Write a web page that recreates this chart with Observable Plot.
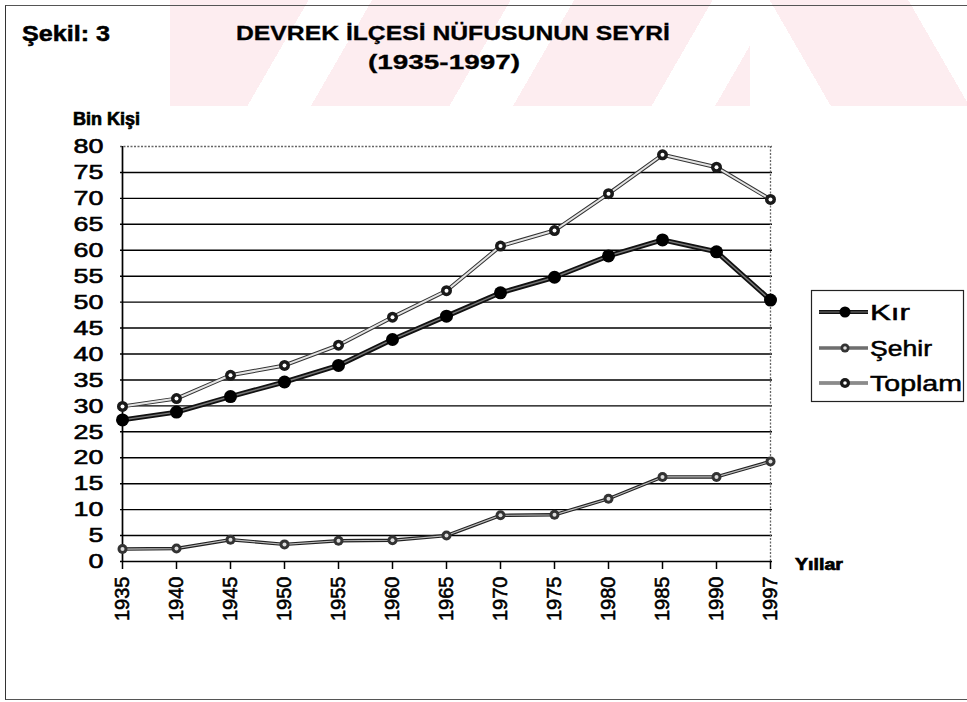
<!DOCTYPE html>
<html>
<head>
<meta charset="utf-8">
<script src="https://cdn.jsdelivr.net/npm/d3@7"></script>
<script src="https://cdn.jsdelivr.net/npm/@observablehq/plot@0.6"></script>
<style>
  body { margin: 0; background: #fff; }
  #wrap { position: relative; width: 967px; height: 702px; overflow: hidden; background: #fff;
          font-family: "Liberation Sans", Arial, sans-serif; }
  #wm1 { position: absolute; left: 170px; top: 0; width: 580px; height: 106px;
        background: repeating-linear-gradient(120deg, #fdedf0 0 120px, rgba(255,255,255,0) 120px 175px); }
  #wm2 { position: absolute; left: 750px; top: 0; width: 217px; height: 106px;
        background: repeating-linear-gradient(60deg, rgba(255,255,255,0) 0 70px, #fdedf0 70px 190px); }
  #frame { position: absolute; left: 5px; top: 5px; width: 980px; height: 693px;
           border-left: 1.5px solid #333; border-top: 1.5px solid #555; border-bottom: 1.5px solid #555; }
  #wrap svg { position: absolute; left: 0; top: 0; }
</style>
</head>
<body>
<div id="wrap"><div id="wm1"></div><div id="wm2"></div><div id="frame"></div></div>
<script>
// ---- data ----
const years = ["1935","1940","1945","1950","1955","1960","1965","1970","1975","1980","1985","1990","1997"];
const kir    = [27.3, 28.8, 31.8, 34.6, 37.8, 42.8, 47.3, 51.8, 54.8, 58.9, 62.0, 59.7, 50.4];
const sehir  = [2.4, 2.5, 4.2, 3.3, 4.0, 4.1, 5.0, 8.9, 9.0, 12.1, 16.3, 16.3, 19.3];
const toplam = [29.9, 31.4, 35.9, 37.8, 41.7, 47.1, 52.2, 60.8, 63.8, 70.9, 78.4, 76.0, 69.8];
const seriesNames = ["Kır", "Şehir", "Toplam"];
const yTicks = d3.range(0, 85, 5);
const titleText = "DEVREK İLÇESİ NÜFUSUNUN SEYRİ";
const subtitleText = "(1935-1997)";
const figText = "Şekil: 3";
const yLabel = "Bin Kişi";
const xLabel = "Yıllar";

const rows = years.map((year, i) => ({year, kir: kir[i], sehir: sehir[i], toplam: toplam[i]}));
const FONT = "'Liberation Sans', Arial, sans-serif";

const chart = Plot.plot({
  width: 967,
  height: 702,
  marginLeft: 120,
  marginRight: 195,
  marginTop: 146,
  marginBottom: 141,
  style: {background: "transparent", fontFamily: FONT, color: "#000", overflow: "visible"},
  x: {type: "point", domain: years, padding: 0},
  y: {domain: [0, 80]},
  marks: [
    Plot.ruleY(yTicks.filter(d => d > 0 && d < 80), {stroke: "#000", strokeWidth: 1.4}),
    Plot.ruleY([80], {stroke: "#666", strokeWidth: 1.3, strokeDasharray: "2,1.5"}),
    Plot.ruleX([years[years.length - 1]], {stroke: "#666", strokeWidth: 1.3, strokeDasharray: "2,1.5"}),
    Plot.ruleX([years[0]], {stroke: "#000", strokeWidth: 1.7}),
    Plot.ruleY([0], {stroke: "#000", strokeWidth: 1.7}),
    Plot.axisY({ticks: yTicks, tickSize: 0, tickPadding: 17, fontSize: 21, label: null, tickFormat: d => String(d)}),
    Plot.axisX({tickSize: 8, tickPadding: 7, tickRotate: -90, fontSize: 20, label: null, strokeWidth: 1.5}),
    // Toplam
    Plot.line(rows, {x: "year", y: "toplam", stroke: "#333", strokeWidth: 4}),
    Plot.line(rows, {x: "year", y: "toplam", stroke: "#e4e4e4", strokeWidth: 2}),
    // Şehir
    Plot.line(rows, {x: "year", y: "sehir", stroke: "#222", strokeWidth: 3.4}),
    Plot.line(rows, {x: "year", y: "sehir", stroke: "#bbb", strokeWidth: 1.2}),
    // Kır
    Plot.line(rows, {x: "year", y: "kir", stroke: "#111", strokeWidth: 5}),
    Plot.line(rows, {x: "year", y: "kir", stroke: "#777", strokeWidth: 1.4}),
    // markers
    Plot.dot(rows, {x: "year", y: "toplam", r: 5.5, fill: "#1a1a1a"}),
    Plot.dot(rows, {x: "year", y: "toplam", r: 2, fill: "#fff"}),
    Plot.dot(rows, {x: "year", y: "sehir", r: 5, fill: "#333"}),
    Plot.dot(rows, {x: "year", y: "sehir", r: 2, fill: "#ddd"}),
    Plot.dot(rows, {x: "year", y: "kir", r: 6.5, fill: "#000"})
  ]
});
const wrap = document.getElementById("wrap");
wrap.appendChild(chart);

// stretch / thicken y tick labels like the scanned original
d3.select(chart).selectAll("g[aria-label='y-axis tick label'] text").each(function() {
  const len = this.getComputedTextLength();
  this.setAttribute("textLength", len * 1.28);
  this.setAttribute("lengthAdjust", "spacingAndGlyphs");
}).attr("stroke", "#000").attr("stroke-width", 0.6);
d3.select(chart).selectAll("g[aria-label='x-axis tick label'] text")
  .attr("stroke", "#000").attr("stroke-width", 0.6);

// ---- overlay: titles, axis names, legend ----
const ov = d3.select(wrap).append("svg")
  .attr("width", 967).attr("height", 702)
  .style("font-family", FONT);

function label(txt, x, y, size, weight, width, anchor = "start") {
  const t = ov.append("text").attr("x", x).attr("y", y)
    .attr("font-size", size).attr("font-weight", weight)
    .attr("text-anchor", anchor).attr("fill", "#000").text(txt);
  if (width) t.attr("textLength", width).attr("lengthAdjust", "spacingAndGlyphs");
  return t;
}
label(figText, 22, 41, 22, "bold", 88).attr("stroke", "#000").attr("stroke-width", 0.5);
label(titleText, 236, 40, 21, "bold", 434).attr("stroke", "#000").attr("stroke-width", 0.3);
label(subtitleText, 368, 69, 21, "bold", 152).attr("stroke", "#000").attr("stroke-width", 0.3);
label(yLabel, 73, 125, 18, "bold", 67).attr("stroke", "#000").attr("stroke-width", 0.7);
label(xLabel, 795, 570, 17, "bold", 48).attr("stroke", "#000").attr("stroke-width", 0.7);

// legend
const lg = ov.append("g");
lg.append("rect").attr("x", 811.5).attr("y", 290.5).attr("width", 152).attr("height", 111)
  .attr("fill", "#fff").attr("stroke", "#222").attr("stroke-width", 1.2);
const legendStyle = [
  {outer: "#111", ow: 4, inner: "#777", iw: 1, dot: "#000", r: 5.5, hole: null},
  {outer: "#222", ow: 3, inner: "#bbb", iw: 1, dot: "#333", r: 4.5, hole: "#ddd"},
  {outer: "#333", ow: 3, inner: "#e4e4e4", iw: 1.2, dot: "#1a1a1a", r: 5, hole: "#fff"}
];
const legendY = [312, 348, 383];
const legendW = [40, 62, 92];
seriesNames.forEach((name, i) => {
  const s = legendStyle[i], y = legendY[i];
  lg.append("line").attr("x1", 819).attr("x2", 868).attr("y1", y).attr("y2", y)
    .attr("stroke", s.outer).attr("stroke-width", s.ow);
  lg.append("line").attr("x1", 819).attr("x2", 868).attr("y1", y).attr("y2", y)
    .attr("stroke", s.inner).attr("stroke-width", s.iw);
  lg.append("circle").attr("cx", 845).attr("cy", y).attr("r", s.r).attr("fill", s.dot);
  if (s.hole) lg.append("circle").attr("cx", 845).attr("cy", y).attr("r", 1.8).attr("fill", s.hole);
  label(name, 870, y + 8, 22, "normal", legendW[i]).attr("stroke", "#000").attr("stroke-width", 0.5);
});
</script>
</body>
</html>
